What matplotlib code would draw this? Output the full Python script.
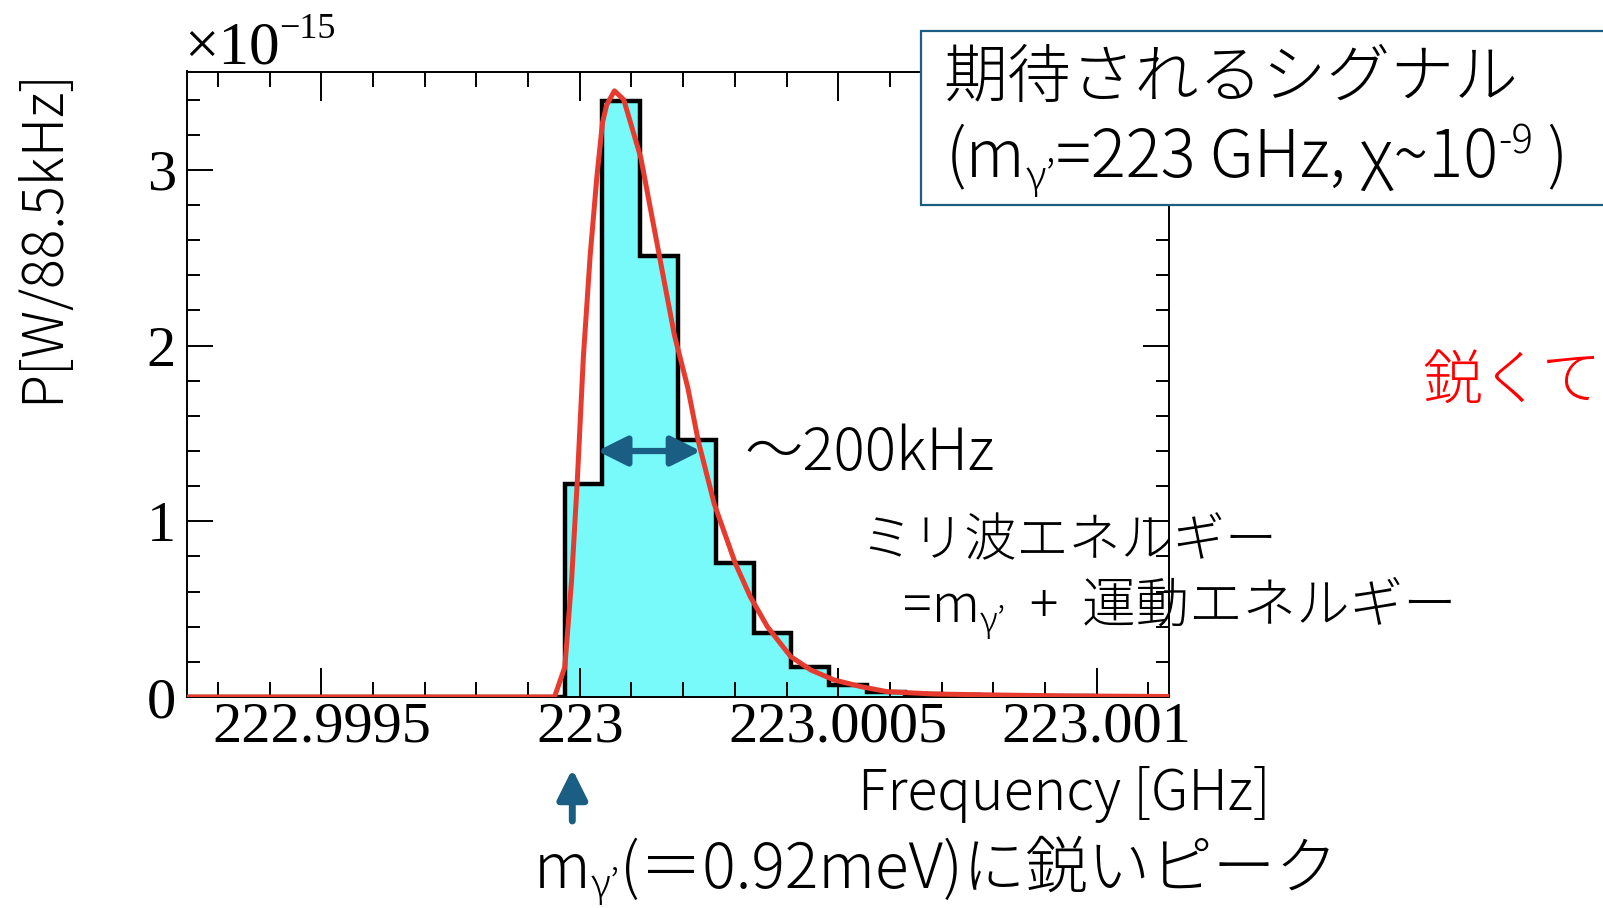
import numpy as np
import matplotlib
matplotlib.use("Agg")
import matplotlib.pyplot as plt
from matplotlib.patches import Rectangle
from matplotlib.ticker import MultipleLocator, FuncFormatter

plt.rcParams['font.family'] = ['Noto Sans CJK JP', 'DejaVu Sans']
plt.rcParams['font.weight'] = 300

W, H = 1603, 908

# spectrum binning [GHz]
f_lo, f_hi = 222.99924, 223.00114
n_bins = 26
f0 = 223.0   # dark photon mass

# power per bin [1e-15 W / 88.5 kHz]
power = [0, 0, 0, 0, 0, 0, 0, 0, 0, 0,
         1.215, 3.39, 2.51, 1.465, 0.76, 0.362, 0.172, 0.068,
         0.03, 0.015, 0.01, 0.006, 0.004, 0.003, 0.002, 0.001]

# expected line shape: offset from f0 [1e-4 GHz] and power [1e-15 W]
curve_df = [-7.6, -0.49, -0.29, -0.16, -0.05, 0.07, 0.20, 0.33, 0.44, 0.52,
            0.67, 0.85, 1.18, 1.54, 1.83, 2.09, 2.29, 2.60, 3.01, 3.30,
            3.63, 4.08, 4.47, 4.92, 5.44, 5.95, 6.86, 8.15, 9.44, 11.4]
curve_p = [0, 0, 0.17, 0.66, 1.22, 1.94, 2.51, 2.96, 3.27, 3.37,
           3.45, 3.40, 3.07, 2.51, 2.06, 1.76, 1.46, 1.10, 0.76, 0.57,
           0.40, 0.23, 0.154, 0.097, 0.059, 0.030, 0.017, 0.011, 0.006, 0.003]

# width marker (~200 kHz) at this height
fwhm_lo, fwhm_hi, fwhm_y = 223.000034, 223.000234, 1.40

teal = '#1B5E84'

fig = plt.figure(figsize=(W / 100, H / 100), dpi=100)
ax = fig.add_axes([187 / W, (H - 697) / H, (1169 - 187) / W, (697 - 71.5) / H])

edges = np.linspace(f_lo, f_hi, n_bins + 1)
ax.stairs(power, edges, fill=True, color='#78FAFA', zorder=1)
ax.stairs(power, edges, color='black', lw=3.2, zorder=2)
ax.plot(f0 + np.array(curve_df) * 1e-4, curve_p, color='#E63B2E', lw=3.6,
        zorder=3, solid_joinstyle='round')

ax.set_xlim(f_lo, f_hi)
ax.set_ylim(0, 3.56)

ax.xaxis.set_major_locator(MultipleLocator(0.0005))
ax.xaxis.set_minor_locator(MultipleLocator(0.0001))
ax.yaxis.set_major_locator(MultipleLocator(1))
ax.yaxis.set_minor_locator(MultipleLocator(0.2))
ax.xaxis.set_major_formatter(FuncFormatter(lambda v, p: f"{v:.4f}".rstrip('0').rstrip('.')))
ax.yaxis.set_major_formatter(FuncFormatter(lambda v, p: f"{v:g}"))
ax.tick_params(which='both', direction='in', top=True, right=True, width=1.4,
               labelsize=42, labelfontfamily='Liberation Serif')
ax.tick_params(axis='x', which='major', length=21, pad=3)
ax.tick_params(axis='x', which='minor', length=10.5)
ax.tick_params(axis='y', which='major', length=18.5, pad=8)
ax.tick_params(axis='y', which='minor', length=9.5)
for s in ax.spines.values():
    s.set_linewidth(1.4)

# arrows
ax.annotate('', xy=(fwhm_hi, fwhm_y), xytext=(fwhm_lo, fwhm_y),
            arrowprops=dict(arrowstyle='<|-|>,head_length=0.9,head_width=0.45',
                            mutation_scale=20, lw=4.5, color=teal,
                            shrinkA=0, shrinkB=0), zorder=4)
ax.annotate('', xy=(f0 - 0.0000145, H - 769), xytext=(f0 - 0.0000145, H - 821),
            xycoords=('data', 'figure pixels'), textcoords=('data', 'figure pixels'),
            arrowprops=dict(arrowstyle='-|>,head_length=0.9,head_width=0.45',
                            mutation_scale=20, lw=5, color=teal,
                            shrinkA=0, shrinkB=0), annotation_clip=False)

renderer = fig.canvas.get_renderer()


def chain(x, y, parts, **kw):
    # consecutive pieces of text on one baseline; parts = (text, size, raise_px)
    for s, size, dy in parts:
        t = fig.text(x / W, (H - y + dy) / H, s, fontsize=size,
                     ha='left', va='baseline', **kw)
        x = t.get_window_extent(renderer).x1


# exponent of the y axis
chain(184, 64, [("×10", 44, 0), ("−15", 26, 26)], family='Liberation Serif')

fig.text(42 / W, (H - 236) / H, "P[W/88.5kHz]", fontsize=40, rotation=90,
         ha='center', va='center')
fig.text(1271 / W, (H - 810) / H, "Frequency [GHz]", fontsize=40,
         ha='right', va='baseline')

# signal box
fig.add_artist(Rectangle((921 / W, (H - 204.5) / H), (1660 - 921) / W, (204.5 - 30.7) / H,
                         transform=fig.transFigure, fc='white', ec=teal, lw=1.6, zorder=5))
fig.text(943 / W, (H - 97) / H, "期待されるシグナル", fontsize=46,
         ha='left', va='baseline', zorder=6)
chain(946, 177, [("(m", 47, 0), ("γ’", 29, -12), ("=223 GHz, χ~10", 47, 0),
                 ("-9", 29, 24), (" )", 47, 0)], zorder=6)

chain(744, 470, [("～200kHz", 42, 0)])
chain(860, 556, [("ミリ波エネルギー", 37.5, 0)])
chain(903, 622, [("=m", 38.5, 0), ("γ’", 25, -10), ("  +  運動エネルギー", 38.5, 0)])
chain(534, 888, [("m", 45, 0), ("γ’", 28, -9), ("(＝0.92meV)に鋭いピーク", 45, 0)])
chain(1422, 400, [("鋭くて", 43, 0)], color='red')

fig.savefig("out.png", dpi=100)
